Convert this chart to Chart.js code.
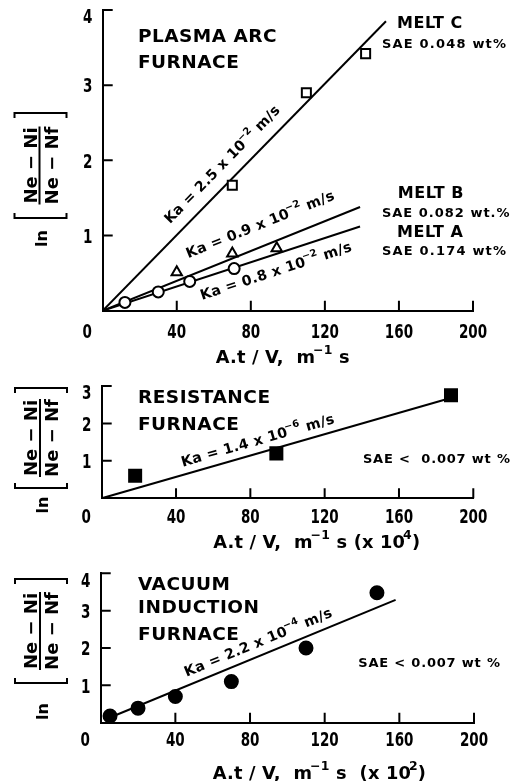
<!DOCTYPE html>
<html>
<head>
<meta charset="utf-8">
<script src="https://cdn.jsdelivr.net/npm/chart.js@4.4.1/dist/chart.umd.min.js"></script>
<style>
html, body { margin: 0; padding: 0; background: #fff; }
#wrap { position: relative; width: 524px; height: 781px; overflow: hidden; }
canvas { position: absolute; left: 0; }
</style>
</head>
<body>
<div id="wrap">
  <canvas id="c1" width="524" height="370" style="top:0px"></canvas>
  <canvas id="c2" width="524" height="185" style="top:370px"></canvas>
  <canvas id="c3" width="524" height="226" style="top:555px"></canvas>
</div>
<script>
// tick labels
const xTicks = [0, 40, 80, 120, 160, 200];
const yTicksArc = [0, 1, 2, 3, 4];
const yTicksRes = [0, 1, 2, 3];
const yTicksVim = [0, 1, 2, 3, 4];

// plasma arc furnace
const meltCX = [70, 110, 142];
const meltCY = [1.67, 2.9, 3.42];
const meltBX = [40, 70, 94];
const meltBY = [0.51, 0.76, 0.83];
const meltAX = [12, 30, 47, 71];
const meltAY = [0.11, 0.25, 0.39, 0.56];
const fitCX = [0, 153];
const fitCY = [0, 3.85];
const fitBX = [0, 139];
const fitBY = [0, 1.38];
const fitAX = [0, 139];
const fitAY = [0, 1.12];

// resistance furnace
const resX = [18, 94, 188];
const resY = [0.6, 1.2, 2.75];
const fitResX = [0, 185];
const fitResY = [0, 2.64];

// vacuum induction furnace
const vimX = [5, 20, 40, 70, 110, 148];
const vimY = [0.18, 0.39, 0.7, 1.1, 2.0, 3.48];
const fitVimX = [5, 158];
const fitVimY = [0.14, 3.29];

const pts = (xs, ys) => xs.map((x, i) => ({ x: x, y: ys[i] }));

const TICK_FONT = 'bold 20px "DejaVu Sans Condensed", "DejaVu Sans", sans-serif';
const TEXT_FONT = '"DejaVu Sans", sans-serif';

function pos(chart, x, y) {
    return [chart.scales.x.getPixelForValue(x), chart.scales.y.getPixelForValue(y)];
}

function lineAngle(chart, xs, ys) {
    const a = pos(chart, xs[0], ys[0]);
    const b = pos(chart, xs[1], ys[1]);
    return Math.atan2(b[1] - a[1], b[0] - a[0]);
}

// text with superscripts: parts = [[text, isSup], ...]
function rich(ctx, parts, x, y, angle, size, spacing, weight) {
    ctx.save();
    ctx.translate(x, y);
    ctx.rotate(angle);
    ctx.fillStyle = '#000';
    ctx.textAlign = 'left';
    ctx.textBaseline = 'alphabetic';
    ctx.letterSpacing = (spacing || 0) + 'px';
    let cx = 0;
    parts.forEach(([t, sup]) => {
        const fs = sup ? size * 0.7 : size;
        ctx.font = (weight || '') + ' ' + fs + 'px ' + TEXT_FONT;
        if (sup) cx -= size * 0.12;
        ctx.fillText(t, cx, sup ? -size * 0.48 : 0);
        cx += ctx.measureText(t).width;
    });
    ctx.restore();
}

function label(ctx, text, x, y, font, spacing) {
    ctx.save();
    ctx.fillStyle = '#000';
    ctx.font = font;
    ctx.textAlign = 'left';
    ctx.textBaseline = 'alphabetic';
    ctx.letterSpacing = (spacing || 0) + 'px';
    ctx.fillText(text, x, y);
    ctx.restore();
}

// narrow, tall tick digits
function tickText(ctx, text, x, y, align) {
    ctx.save();
    ctx.translate(x, y);
    ctx.scale(0.75, 1);
    ctx.fillStyle = '#000';
    ctx.font = TICK_FONT;
    ctx.textAlign = align;
    ctx.textBaseline = 'alphabetic';
    ctx.fillText(text, 0, 0);
    ctx.restore();
}

// ln [ (Ne - Ni) / (Ne - Nf) ], rotated
function yLabel(ctx, bx, cy, half, lnOff) {
    ctx.save();
    ctx.translate(bx, cy);
    ctx.rotate(-Math.PI / 2);
    ctx.fillStyle = '#000';
    ctx.strokeStyle = '#000';
    ctx.lineWidth = 2;
    ctx.textAlign = 'center';
    ctx.textBaseline = 'alphabetic';
    ctx.font = 'bold 18px ' + TEXT_FONT;
    ctx.fillText('Ne \u2212 Ni', 0, -3);
    ctx.fillText('Ne \u2212 Nf', 0, 18);
    ctx.font = 'bold 16px ' + TEXT_FONT;
    ctx.fillText('ln', -lnOff, 7.5);
    ctx.beginPath();
    ctx.moveTo(-39, 0); ctx.lineTo(39, 0);
    ctx.moveTo(-half + 5, -25); ctx.lineTo(-half, -25); ctx.lineTo(-half, 27); ctx.lineTo(-half + 5, 27);
    ctx.moveTo(half - 5, -25); ctx.lineTo(half, -25); ctx.lineTo(half, 27); ctx.lineTo(half - 5, 27);
    ctx.stroke();
    ctx.restore();
}

// inward tick marks and tick labels, placed through the chart scales
function axisDeco(chart, yTicks, xLabDy) {
    const { ctx, chartArea } = chart;
    const sx = chart.scales.x, sy = chart.scales.y;
    const yMax = yTicks[yTicks.length - 1];
    ctx.save();
    ctx.strokeStyle = '#000';
    ctx.lineWidth = 2;
    ctx.beginPath();
    xTicks.forEach(v => {
        if (!v) return;
        const p = sx.getPixelForValue(v);
        ctx.moveTo(p, chartArea.bottom);
        ctx.lineTo(p, chartArea.bottom - 10);
    });
    yTicks.forEach(v => {
        if (!v) return;
        const p = sy.getPixelForValue(v);
        ctx.moveTo(chartArea.left, p);
        ctx.lineTo(chartArea.left + 10, p);
    });
    ctx.stroke();
    ctx.restore();
    xTicks.forEach(v => {
        const p = v ? sx.getPixelForValue(v) : chartArea.left - 15.5;
        tickText(ctx, String(v), p, chartArea.bottom + xLabDy + 7.3, 'center');
    });
    yTicks.forEach(v => {
        if (!v) return;
        const p = sy.getPixelForValue(v) + (v === yMax ? 6 : 0);
        tickText(ctx, String(v), chartArea.left - 10.3, p + 7.3, 'right');
    });
}

function marker(data, style, r, fill) {
    return {
        type: 'scatter', data: data, order: 0,
        pointStyle: style, pointRadius: r, pointHoverRadius: r,
        pointBackgroundColor: fill, pointBorderColor: '#000', pointBorderWidth: 2
    };
}

function fit(data) {
    return {
        type: 'line', data: data, order: 1,
        borderColor: '#000', borderWidth: 2, pointRadius: 0, fill: false, tension: 0
    };
}

function makeChart(id, o) {
    return new Chart(document.getElementById(id), {
        type: 'scatter',
        data: { datasets: o.datasets },
        options: {
            responsive: false,
            animation: false,
            layout: { padding: { left: 0, right: o.right, top: o.top, bottom: 0 } },
            plugins: { legend: { display: false }, tooltip: { enabled: false } },
            scales: {
                x: {
                    type: 'linear', min: 0, max: 200,
                    afterBuildTicks: s => { s.ticks = xTicks.map(v => ({ value: v })); },
                    afterFit: s => { s.height = o.xh; },
                    grid: { display: false, drawTicks: false },
                    border: { display: true, color: '#000', width: 2 },
                    ticks: { display: false }
                },
                y: {
                    type: 'linear', min: 0, max: o.yTicks[o.yTicks.length - 1],
                    afterBuildTicks: s => { s.ticks = o.yTicks.map(v => ({ value: v })); },
                    afterFit: s => { s.width = o.left; },
                    grid: { display: false, drawTicks: false },
                    border: { display: true, color: '#000', width: 2 },
                    ticks: { display: false }
                }
            }
        },
        plugins: [{ id: 'deco_' + id, afterDraw: chart => o.deco(chart) }]
    });
}

const BIG = 'bold 18.5px ' + TEXT_FONT;
const SMALL = 'bold 13px ' + TEXT_FONT;
const MELT = 'bold 16px ' + TEXT_FONT;
const KA = 14.2;
const XT = 17.8;

// plasma arc furnace
makeChart('c1', {
    left: 102.7, right: 51, top: 10, xh: 59.3, yTicks: yTicksArc,
    datasets: [
        marker(pts(meltCX, meltCY), 'rect', 6.4, '#fff'),
        marker(pts(meltBX, meltBY), 'triangle', 6, '#fff'),
        marker(pts(meltAX, meltAY), 'circle', 5.5, '#fff'),
        fit(pts(fitCX, fitCY)),
        fit(pts(fitBX, fitBY)),
        fit(pts(fitAX, fitAY))
    ],
    deco: chart => {
        const ctx = chart.ctx;
        axisDeco(chart, yTicksArc, 20.3);
        label(ctx, 'PLASMA ARC', ...pos(chart, 19, 3.57), BIG, 0.5);
        label(ctx, 'FURNACE', ...pos(chart, 19, 3.23), BIG, 0.5);
        label(ctx, 'MELT C', ...pos(chart, 159, 3.76), MELT, 0.5);
        label(ctx, 'SAE 0.048 wt%', ...pos(chart, 150.8, 3.49), SMALL, 1.2);
        label(ctx, 'MELT B', ...pos(chart, 159.4, 1.5), MELT, 0.5);
        label(ctx, 'SAE 0.082 wt.%', ...pos(chart, 150.8, 1.246), SMALL, 1.0);
        label(ctx, 'MELT A', ...pos(chart, 159, 0.98), MELT, 0.5);
        label(ctx, 'SAE 0.174 wt%', ...pos(chart, 150.8, 0.74), SMALL, 1.2);
        rich(ctx, [['Ka = 2.5 x 10'], ['\u22122', 1], [' m/s']], ...pos(chart, 36.3, 1.15), lineAngle(chart, fitCX, fitCY), KA, 0.3, 'bold');
        rich(ctx, [['Ka = 0.9 x 10'], ['\u22122', 1], [' m/s']], ...pos(chart, 46.2, 0.697), lineAngle(chart, fitBX, fitBY), KA, 0.3, 'bold');
        rich(ctx, [['Ka = 0.8 x 10'], ['\u22122', 1], [' m/s']], ...pos(chart, 53.6, 0.142), lineAngle(chart, fitAX, fitAY), KA, 0.3, 'bold');
        rich(ctx, [['A.t / V,  m'], ['\u22121', 1], [' s']], chart.scales.x.getPixelForValue(61), chart.chartArea.bottom + 52, 0, XT, 0.2, 'bold');
        yLabel(ctx, 39.5, 165.5, 52.5, 73);
    }
});

// resistance furnace
makeChart('c2', {
    left: 101.7, right: 50.7, top: 16, xh: 56.7, yTicks: yTicksRes,
    datasets: [
        marker(pts(resX, resY), 'rect', 8.5, '#000'),
        fit(pts(fitResX, fitResY))
    ],
    deco: chart => {
        const ctx = chart.ctx;
        axisDeco(chart, yTicksRes, 17.5);
        label(ctx, 'RESISTANCE', ...pos(chart, 19.5, 2.55), BIG, 0.5);
        label(ctx, 'FURNACE', ...pos(chart, 19.5, 1.83), BIG, 0.5);
        label(ctx, 'SAE <  0.007 wt %', ...pos(chart, 140.6, 0.944), SMALL, 0.8);
        rich(ctx, [['Ka = 1.4 x 10'], ['\u22126', 1], [' m/s']], ...pos(chart, 43.6, 0.845), lineAngle(chart, fitResX, fitResY), KA, 0.3, 'bold');
        rich(ctx, [['A.t / V,  m'], ['\u22121', 1], [' s (x 10'], ['4', 1], [')']], chart.scales.x.getPixelForValue(60), chart.chartArea.bottom + 49.5, 0, XT, 0.2, 'bold');
        yLabel(ctx, 40, 68, 50, 67);
    }
});

// vacuum induction furnace
makeChart('c3', {
    left: 100.7, right: 50, top: 18.3, xh: 58.3, yTicks: yTicksVim,
    datasets: [
        marker(pts(vimX, vimY), 'circle', 6.5, '#000'),
        fit(pts(fitVimX, fitVimY))
    ],
    deco: chart => {
        const ctx = chart.ctx;
        axisDeco(chart, yTicksVim, 15.8);
        label(ctx, 'VACUUM', ...pos(chart, 20, 3.55), BIG, 0.5);
        label(ctx, 'INDUCTION', ...pos(chart, 20, 2.94), BIG, 0.5);
        label(ctx, 'FURNACE', ...pos(chart, 20, 2.21), BIG, 0.5);
        label(ctx, 'SAE < 0.007 wt %', ...pos(chart, 138, 1.49), SMALL, 0.8);
        rich(ctx, [['Ka = 2.2 x 10'], ['\u22124', 1], [' m/s']], ...pos(chart, 46, 1.23), lineAngle(chart, fitVimX, fitVimY), KA, 0.3, 'bold');
        rich(ctx, [['A.t / V,  m'], ['\u22121', 1], [' s  (x 10'], ['2', 1], [')']], chart.scales.x.getPixelForValue(60), chart.chartArea.bottom + 56, 0, XT, 0.2, 'bold');
        yLabel(ctx, 40, 76, 52, 80.5);
    }
});
</script>
</body>
</html>
